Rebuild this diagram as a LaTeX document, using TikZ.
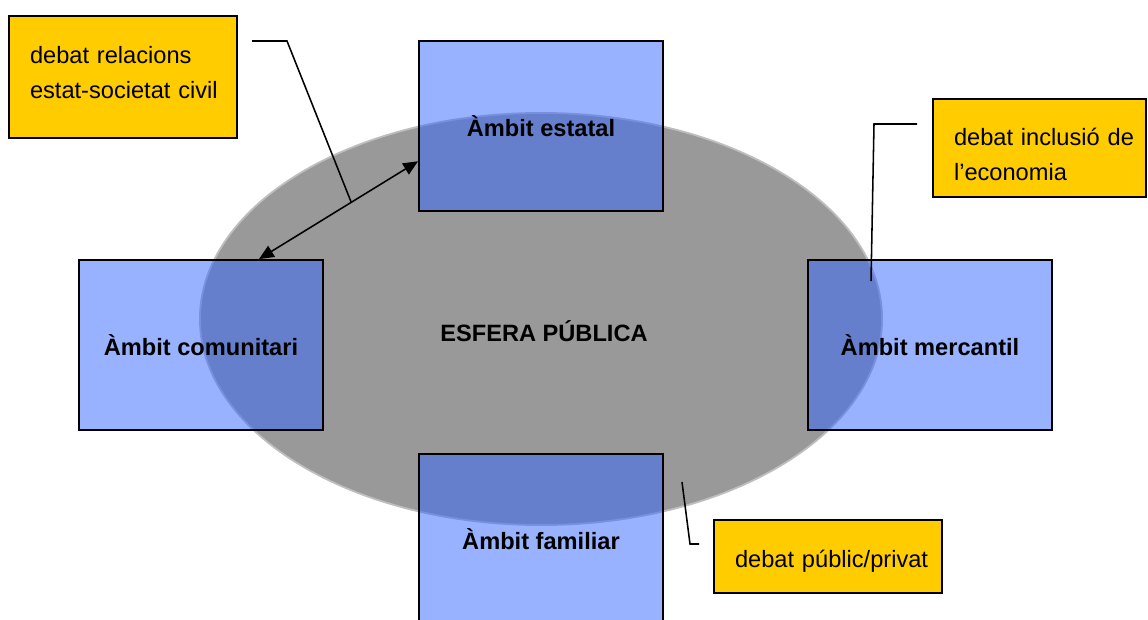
\documentclass[tikz,border=0pt]{standalone}
\usepackage{fontspec}
\setmainfont{Liberation Sans}
\usetikzlibrary{shapes.geometric,arrows.meta}
\definecolor{ambitblue}{RGB}{51,102,255}
\definecolor{debatyellow}{RGB}{255,204,0}
\definecolor{esferagray}{RGB}{153,153,153}
\definecolor{esferarim}{RGB}{190,190,190}

\begin{document}
\begin{tikzpicture}[x=0.025cm, y=-0.025cm, line width=1.3pt,
	ambit/.style={rectangle, draw=black, fill=ambitblue, fill opacity=0.5, text opacity=1, minimum width=6.1cm, minimum height=4.25cm, font=\fontsize{16.8}{20}\selectfont\bfseries},
	debat/.style={rectangle, draw=black, fill=debatyellow, inner xsep=0.525cm, inner ysep=0pt, outer sep=0pt, align=left, font=\fontsize{16.8}{25}\selectfont},
	link/.style={draw=black, line width=1.1pt}]
	\useasboundingbox (0,0) rectangle (1148,619);
	% esfera publica
	\node (esfera) at (541, 319)	[ellipse, draw=esferarim, fill=esferagray, minimum width=17.05cm, minimum height=10.3cm, inner sep=0pt]	{};
	\node (esferatext) at (544, 331)	[font=\fontsize{16.8}{20}\selectfont\bfseries]	{ESFERA PÚBLICA};
	% ambits
	\node (estatal) at (541, 126)	[ambit]	{Àmbit estatal};
	\node (comunitari) at (201, 345)	[ambit]	{Àmbit comunitari};
	\node (mercantil) at (930, 345)	[ambit]	{Àmbit mercantil};
	\node (familiar) at (541, 539)	[ambit]	{Àmbit familiar};
	% debats
	\node (relacions) at (9, 16)	[debat, anchor=north west, minimum width=5.7cm, text width=4.65cm, text height=1.175cm, text depth=1.875cm]	{\mbox{debat relacions}\\\mbox{estat-societat civil}};
	\node (economia) at (933, 99)	[debat, anchor=north west, minimum width=5.325cm, text width=4.275cm, text height=1.15cm, text depth=1.3cm]	{\mbox{debat inclusió de}\\\mbox{l’economia}};
	\node (privat) at (714, 520)	[debat, anchor=north west, minimum width=5.7cm, text width=4.65cm, text height=1.175cm, text depth=0.65cm]	{\mbox{debat públic/privat}};
	% connectors
	\draw[link, {Triangle[length=0.37cm, width=0.32cm]}-{Triangle[length=0.37cm, width=0.32cm]}] (comunitari.56.6) -- coordinate[pos=0.58] (cruce) (estatal.196.9);
	\coordinate (relacionsend) at (252, 41);
	\draw[link] (relacionsend) -- (287, 41) -- (cruce);
	\coordinate (economiaend) at (917, 124);
	\coordinate (mercantilend) at (871, 281);
	\draw[link] (economiaend) -- (874, 124) -- (mercantilend);
	\coordinate (privatend) at (699, 544);
	\coordinate (esferaend) at (682, 482);
	\draw[link] (privatend) -- (690, 544) -- (esferaend);
\end{tikzpicture}
\end{document}
